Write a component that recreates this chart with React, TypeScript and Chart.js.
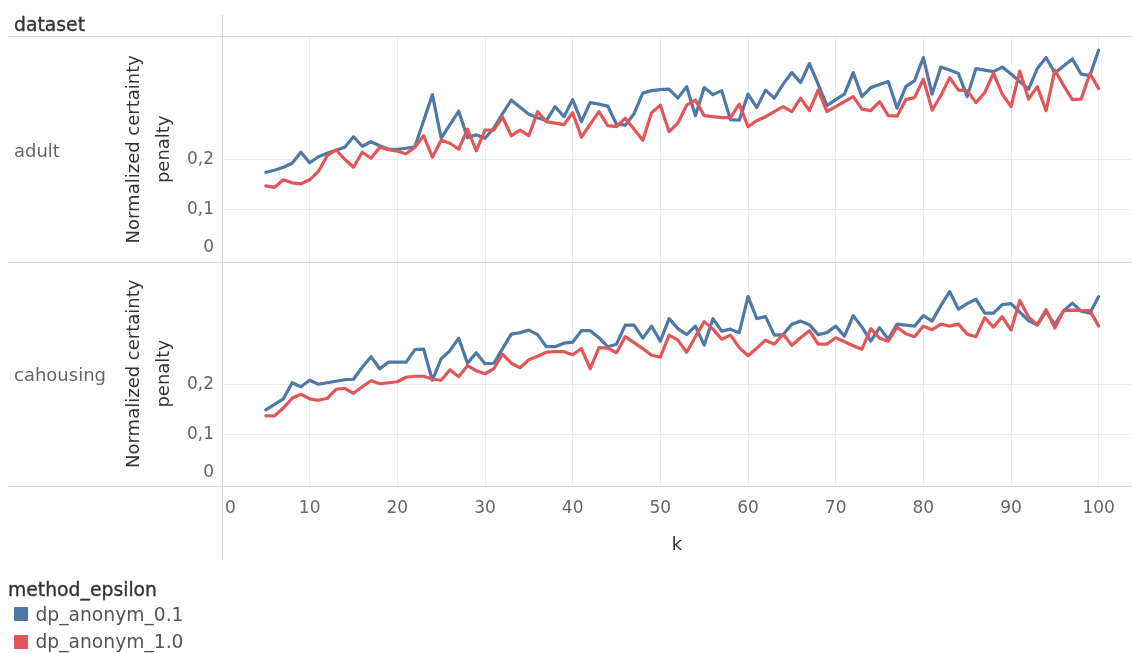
import { useEffect, useRef } from 'react';
import { Chart, registerables } from 'chart.js';

Chart.register(...registerables);

const W = 1132;
const H = 653;
const FONT = '"DejaVu Sans", sans-serif';

// k values on the horizontal axis
const K = [
  5, 6, 7, 8, 9, 10, 11, 12, 13, 14,
  15, 16, 17, 18, 19, 20, 21, 22, 23, 24,
  25, 26, 27, 28, 29, 30, 31, 32, 33, 34,
  35, 36, 37, 38, 39, 40, 41, 42, 43, 44,
  45, 46, 47, 48, 49, 50, 51, 52, 53, 54,
  55, 56, 57, 58, 59, 60, 61, 62, 63, 64,
  65, 66, 67, 68, 69, 70, 71, 72, 73, 74,
  75, 76, 77, 78, 79, 80, 81, 82, 83, 84,
  85, 86, 87, 88, 89, 90, 91, 92, 93, 94,
  95, 96, 97, 98, 99, 100,
];

// Normalized certainty penalty, dataset "adult"
const ADULT_EPS_01 = [
  0.175, 0.179, 0.185, 0.193, 0.215, 0.194, 0.206, 0.213, 0.219, 0.225,
  0.246, 0.227, 0.236, 0.228, 0.221, 0.221, 0.223, 0.226, 0.278, 0.330,
  0.243, 0.270, 0.297, 0.244, 0.250, 0.243, 0.263, 0.292, 0.319, 0.305,
  0.291, 0.284, 0.278, 0.306, 0.286, 0.320, 0.276, 0.314, 0.311, 0.307,
  0.271, 0.269, 0.292, 0.333, 0.338, 0.340, 0.341, 0.323, 0.346, 0.288,
  0.344, 0.330, 0.338, 0.280, 0.279, 0.331, 0.304, 0.339, 0.323, 0.351,
  0.374, 0.354, 0.392, 0.351, 0.308, 0.320, 0.331, 0.374, 0.326, 0.344,
  0.350, 0.356, 0.303, 0.346, 0.358, 0.404, 0.331, 0.385, 0.379, 0.372,
  0.326, 0.382, 0.379, 0.376, 0.385, 0.371, 0.356, 0.341, 0.382, 0.404,
  0.373, 0.387, 0.401, 0.371, 0.368, 0.419,
];

const ADULT_EPS_10 = [
  0.148, 0.145, 0.160, 0.154, 0.152, 0.160, 0.177, 0.208, 0.220, 0.201,
  0.185, 0.215, 0.203, 0.225, 0.220, 0.217, 0.212, 0.225, 0.248, 0.205,
  0.239, 0.233, 0.221, 0.261, 0.218, 0.259, 0.259, 0.285, 0.248, 0.259,
  0.248, 0.296, 0.276, 0.273, 0.270, 0.294, 0.245, 0.271, 0.296, 0.268,
  0.266, 0.283, 0.261, 0.239, 0.294, 0.309, 0.256, 0.273, 0.309, 0.319,
  0.288, 0.286, 0.284, 0.284, 0.311, 0.266, 0.278, 0.286, 0.296, 0.306,
  0.296, 0.323, 0.298, 0.339, 0.296, 0.306, 0.316, 0.326, 0.301, 0.298,
  0.316, 0.288, 0.287, 0.320, 0.324, 0.361, 0.299, 0.328, 0.364, 0.339,
  0.338, 0.314, 0.334, 0.373, 0.331, 0.306, 0.377, 0.321, 0.346, 0.298,
  0.379, 0.348, 0.320, 0.321, 0.372, 0.342,
];

// Normalized certainty penalty, dataset "cahousing"
const CAHOUSING_EPS_01 = [
  0.149, 0.160, 0.171, 0.203, 0.195, 0.208, 0.200, 0.203, 0.206, 0.209,
  0.210, 0.234, 0.255, 0.231, 0.244, 0.244, 0.244, 0.269, 0.270, 0.208,
  0.251, 0.267, 0.292, 0.242, 0.263, 0.241, 0.242, 0.271, 0.300, 0.303,
  0.308, 0.299, 0.275, 0.275, 0.282, 0.284, 0.307, 0.307, 0.293, 0.275,
  0.280, 0.318, 0.318, 0.292, 0.316, 0.286, 0.331, 0.311, 0.299, 0.316,
  0.278, 0.331, 0.306, 0.310, 0.303, 0.375, 0.331, 0.335, 0.298, 0.299,
  0.320, 0.326, 0.319, 0.299, 0.303, 0.316, 0.296, 0.337, 0.314, 0.286,
  0.313, 0.290, 0.320, 0.318, 0.316, 0.337, 0.326, 0.357, 0.385, 0.350,
  0.361, 0.370, 0.342, 0.342, 0.359, 0.361, 0.344, 0.327, 0.318, 0.345,
  0.319, 0.347, 0.362, 0.346, 0.342, 0.375,
];

const CAHOUSING_EPS_10 = [
  0.137, 0.137, 0.153, 0.172, 0.180, 0.171, 0.168, 0.172, 0.190, 0.192,
  0.182, 0.195, 0.207, 0.201, 0.203, 0.205, 0.214, 0.216, 0.216, 0.210,
  0.208, 0.229, 0.215, 0.237, 0.227, 0.221, 0.231, 0.260, 0.242, 0.233,
  0.249, 0.256, 0.264, 0.265, 0.265, 0.259, 0.271, 0.231, 0.273, 0.272,
  0.263, 0.295, 0.283, 0.271, 0.258, 0.254, 0.298, 0.288, 0.264, 0.295,
  0.325, 0.310, 0.290, 0.298, 0.273, 0.257, 0.272, 0.288, 0.280, 0.300,
  0.278, 0.293, 0.307, 0.280, 0.280, 0.293, 0.285, 0.277, 0.270, 0.311,
  0.292, 0.286, 0.314, 0.301, 0.295, 0.316, 0.309, 0.320, 0.316, 0.320,
  0.300, 0.295, 0.333, 0.314, 0.335, 0.308, 0.367, 0.334, 0.319, 0.349,
  0.312, 0.347, 0.348, 0.347, 0.347, 0.316,
];

const X_TICKS = [0, 10, 20, 30, 40, 50, 60, 70, 80, 90, 100];
const Y_TICKS = [0, 0.1, 0.2];
const Y_TICK_LABELS = ['0', '0,1', '0,2'];
const ROW_LABELS = ['adult', 'cahousing'];
const SERIES_LABELS = ['dp_anonym_0.1', 'dp_anonym_1.0'];
const SERIES_COLORS = ['#4e79a7', '#e15759'];

const X_MIN = 0;
const X_MAX = 103.8;
const Y_MIN = -0.003;
const Y_MAX = 0.445;

const AXIS_RIGHT = 222;
const PLOT_TOP = 37;
const PLOT_BOTTOM = 486;

const GRID = '#ececec';
const RULE = '#d6d6d6';
const TICK_COLOR = '#666666';
const TITLE_COLOR = '#333333';

const toPoints = (values: number[]) => K.map((k, i) => ({ x: k, y: values[i] }));

const lineStyle = (color: string) => ({
  borderColor: color,
  backgroundColor: color,
  borderWidth: 3.2,
  pointRadius: 0,
  pointHoverRadius: 0,
  tension: 0,
  fill: false,
  borderJoinStyle: 'round' as const,
  borderCapStyle: 'round' as const,
});

// Frame lines: header rule, row separator, bottom rule and the vertical axis rule
const framePlugin = {
  id: 'panelFrame',
  beforeDatasetsDraw(chart: any) {
    const { ctx, chartArea, width } = chart;
    const mid = chart.scales.yAdult.bottom;
    ctx.save();
    ctx.strokeStyle = RULE;
    ctx.lineWidth = 1;
    const hline = (y: number) => {
      ctx.beginPath();
      ctx.moveTo(8, y);
      ctx.lineTo(width, y);
      ctx.stroke();
    };
    hline(Math.round(chartArea.top) - 0.5);
    hline(Math.round(mid) + 0.5);
    hline(Math.round(chartArea.bottom) + 0.5);
    const vx = Math.round(chartArea.left) + 0.5;
    ctx.beginPath();
    ctx.moveTo(vx, 15);
    ctx.lineTo(vx, 560);
    ctx.stroke();
    ctx.restore();
  },
};

const rowScale = (weight: number) => ({
  type: 'linear' as const,
  position: 'left' as const,
  stack: 'rows',
  stackWeight: 1,
  weight,
  min: Y_MIN,
  max: Y_MAX,
  afterBuildTicks: (scale: any) => {
    scale.ticks = Y_TICKS.map((v) => ({ value: v }));
  },
  afterFit: (scale: any) => {
    scale.width = AXIS_RIGHT;
  },
  ticks: {
    padding: 8,
    color: TICK_COLOR,
    autoSkip: false,
    font: (ctx: any) => ({
      family: FONT,
      size: 17,
      lineHeight: ctx.tick && ctx.tick.value === 0 ? '24px' : 1.2,
    }),
    callback: (_v: any, i: number) => (i === 0 ? [Y_TICK_LABELS[i], ''] : Y_TICK_LABELS[i]),
  },
  grid: {
    drawTicks: false,
    lineWidth: 1,
    color: (ctx: any) => (ctx.tick && ctx.tick.value === 0 ? 'rgba(0,0,0,0)' : GRID),
  },
  border: { display: false },
  title: {
    display: true,
    text: ['Normalized certainty', 'penalty'],
    color: TITLE_COLOR,
    font: { family: FONT, size: 18, lineHeight: '30px' },
    padding: { top: 119, bottom: 0 },
  },
});

const textStyle = (size: number, color: string) => ({
  position: 'absolute' as const,
  fontFamily: FONT,
  fontSize: size,
  lineHeight: '22px',
  color,
  whiteSpace: 'nowrap' as const,
});

const strongText = { WebkitTextStroke: '0.35px #333333' };

export default function App() {
  const canvasRef = useRef<HTMLCanvasElement>(null);

  useEffect(() => {
    const canvas = canvasRef.current;
    if (!canvas) return;
    const chart = new Chart(canvas, {
      type: 'line',
      data: {
        datasets: [
          { label: SERIES_LABELS[0], data: toPoints(ADULT_EPS_01), yAxisID: 'yAdult', order: 1, ...lineStyle(SERIES_COLORS[0]) },
          { label: SERIES_LABELS[1], data: toPoints(ADULT_EPS_10), yAxisID: 'yAdult', order: 0, ...lineStyle(SERIES_COLORS[1]) },
          { label: SERIES_LABELS[0], data: toPoints(CAHOUSING_EPS_01), yAxisID: 'yCahousing', order: 1, ...lineStyle(SERIES_COLORS[0]) },
          { label: SERIES_LABELS[1], data: toPoints(CAHOUSING_EPS_10), yAxisID: 'yCahousing', order: 0, ...lineStyle(SERIES_COLORS[1]) },
        ],
      },
      options: {
        responsive: false,
        devicePixelRatio: 1,
        animation: false,
        events: [],
        layout: { padding: { top: PLOT_TOP, left: 0, right: 0, bottom: 0 } },
        plugins: {
          legend: { display: false },
          tooltip: { enabled: false },
        },
        scales: {
          x: {
            type: 'linear',
            position: 'bottom',
            min: X_MIN,
            max: X_MAX,
            afterBuildTicks: (scale: any) => {
              scale.ticks = X_TICKS.map((v) => ({ value: v }));
            },
            afterFit: (scale: any) => {
              scale.height = H - PLOT_BOTTOM;
            },
            ticks: {
              padding: 12,
              color: TICK_COLOR,
              autoSkip: false,
              maxRotation: 0,
              font: { family: FONT, size: 17 },
              callback: (v: any) => (v === 0 ? '\u20030' : String(v)),
            },
            grid: {
              drawTicks: false,
              lineWidth: 1,
              color: (ctx: any) => (ctx.tick && ctx.tick.value === 0 ? 'rgba(0,0,0,0)' : GRID),
            },
            border: { display: false },
            title: {
              display: true,
              text: 'k',
              color: TITLE_COLOR,
              font: { family: FONT, size: 18 },
              padding: { top: 0, bottom: 97 },
            },
          },
          yAdult: rowScale(1),
          yCahousing: rowScale(0),
        } as any,
      },
      plugins: [framePlugin],
    });
    return () => chart.destroy();
  }, []);

  return (
    <div
      style={{
        position: 'fixed',
        left: 0,
        top: 0,
        width: W,
        height: H,
        background: '#ffffff',
        overflow: 'hidden',
      }}
    >
      <canvas
        ref={canvasRef}
        width={W}
        height={H}
        style={{ position: 'absolute', left: 0, top: 0, width: W, height: H }}
      />
      <div style={{ ...textStyle(18.8, '#333333'), ...strongText, left: 14, top: 14 }}>dataset</div>
      <div style={{ ...textStyle(18, '#666666'), left: 14, top: 139.5 }}>{ROW_LABELS[0]}</div>
      <div style={{ ...textStyle(18, '#666666'), left: 14, top: 363.5 }}>{ROW_LABELS[1]}</div>
      <div style={{ ...textStyle(18.8, '#333333'), ...strongText, left: 8, top: 579 }}>method_epsilon</div>
      {SERIES_LABELS.map((label, i) => (
        <div key={label}>
          <div
            style={{
              position: 'absolute',
              left: 14,
              top: 607 + i * 28,
              width: 14,
              height: 14,
              background: SERIES_COLORS[i],
            }}
          />
          <div style={{ ...textStyle(18.7, '#555555'), left: 35.5, top: 603.5 + i * 27 }}>{label}</div>
        </div>
      ))}
    </div>
  );
}
